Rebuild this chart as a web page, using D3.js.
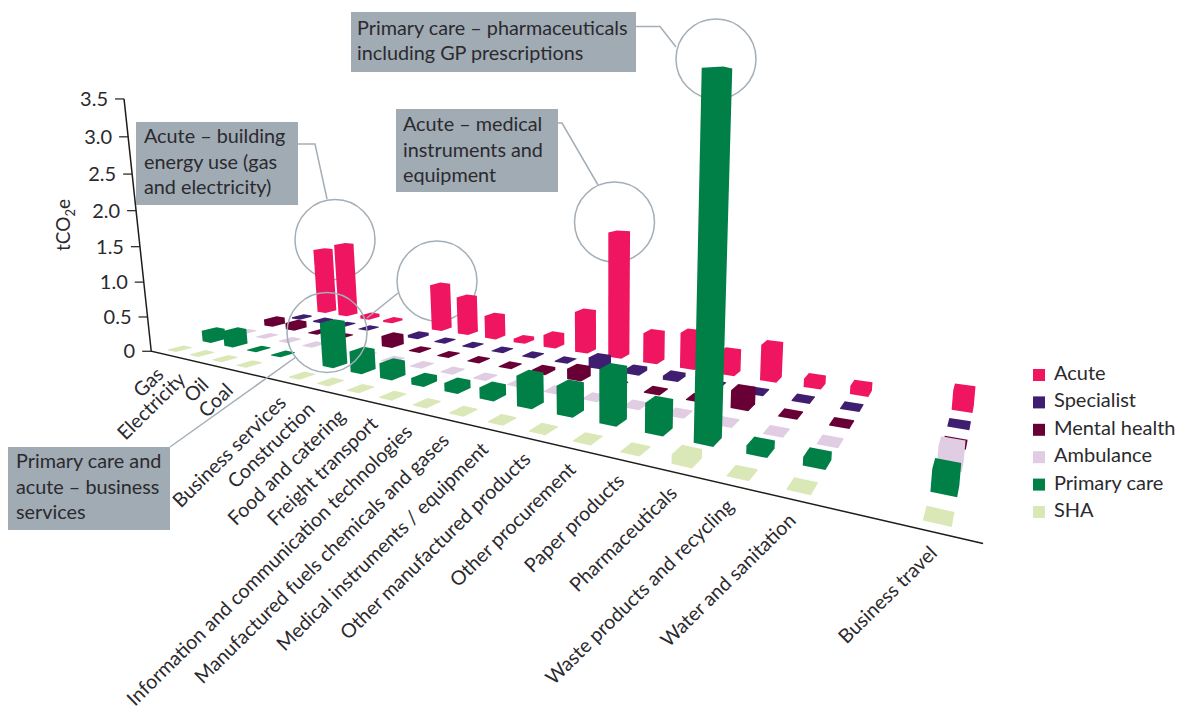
<!DOCTYPE html>
<html>
<head>
<meta charset="utf-8">
<script src="https://d3js.org/d3.v7.min.js"></script>
<style>
  html, body { margin: 0; padding: 0; background: #fff; overflow: hidden; }
  text { font-family: Lato, "Open Sans", sans-serif; fill: #2b2a2e; }
</style>
</head>
<body>
<svg width="1182" height="709"></svg>
<script>
// categories, split into the three groups the chart leaves a gap between
const energy = ["Gas", "Electricity", "Oil", "Coal"];
const procurement = ["Business services", "Construction", "Food and catering", "Freight transport",
  "Information and communication technologies", "Manufactured fuels chemicals and gases",
  "Medical instruments / equipment", "Other manufactured products", "Other procurement",
  "Paper products", "Pharmaceuticals", "Waste products and recycling", "Water and sanitation"];
const travel = ["Business travel"];
const categories = [...energy, ...procurement, ...travel];

const seriesNames = ["Acute", "Specialist", "Mental health", "Ambulance", "Primary care", "SHA"];
const seriesColors = ["#ef1560", "#3f1d70", "#680035", "#e0cde3", "#008046", "#dae8b8"];

// tCO2e, same order as categories
const acute = [1.08, 1.2, 0.05, 0.03, 0.7, 0.56, 0.33, 0.05, 0.17, 0.56, 1.68, 0.39, 0.46, 0.28, 0.44, 0.10, 0.10, 0.22];
const specialist = [0.02, 0.02, 0.01, 0.01, 0.04, 0.01, 0.01, 0.01, 0.01, 0.01, 0.13, 0.05, 0.05, 0.01, 0.01, 0.01, 0.01, 0.01];
const mental = [0.10, 0.10, 0.01, 0.01, 0.15, 0.01, 0.01, 0.01, 0.01, 0.04, 0.13, 0.01, 0.01, 0.01, 0.20, 0.01, 0.01, 0.01];
const ambulance = [0.01, 0.01, 0.01, 0.01, 0.01, 0.01, 0.01, 0.01, 0.01, 0.01, 0.01, 0.01, 0.01, 0.01, 0.01, 0.01, 0.01, 0.20];
const primary = [0.16, 0.22, 0.01, 0.01, 0.58, 0.27, 0.19, 0.08, 0.10, 0.13, 0.35, 0.32, 0.58, 0.31, 3.50, 0.08, 0.08, 0.20];
const sha = [0.01, 0.01, 0.01, 0.01, 0.01, 0.01, 0.01, 0.01, 0.01, 0.01, 0.01, 0.01, 0.01, 0.01, 0.09, 0.01, 0.01, 0.01];
const seriesValues = [acute, specialist, mental, ambulance, primary, sha];

const yTicks = [0, 0.5, 1, 1.5, 2, 2.5, 3, 3.5];

const svg = d3.select("svg");

// scales: grid slots along the front, rows going back, height up
const slotDomain = [...energy, "gap1", ...procurement, "gap2", ...travel];
const slot = d3.scalePoint().domain(slotDomain).range([0, 19]);
const row = d3.scalePoint().domain(seriesNames).range([5, 0]);
const lift = d3.scaleLinear().domain([0, 3.5]).range([0, 1]);

// perspective camera worked out from the picture: ground grid + vertical vanishing point
function project(u, v, h) {
  const t = lift(h);
  const X = 180 + 17.03 * u + 43.2 * v - 33.9 * t;
  const Y = 349 - 3.78 * u + 5.53 * v - 255.6 * t;
  const W = 1 - 0.0244 * u + 0.0422 * v - 0.056 * t;
  return [X / W, Y / W];
}
const depth = (u, v) => 1 - 0.0244 * u + 0.0422 * v;

const halfU = 0.19, halfV = 0.225;

const bars = [];
seriesNames.forEach((s, si) => {
  categories.forEach((c, ci) => {
    const u = slot(c), v = row(s), val = seriesValues[si][ci];
    const corners = [];
    [-halfU, halfU].forEach(du => [-halfV, halfV].forEach(dv => {
      corners.push(project(u + du, v + dv, 0));
      corners.push(project(u + du, v + dv, val));
    }));
    bars.push({ color: seriesColors[si], hull: d3.polygonHull(corners), z: depth(u, v) });
  });
});
bars.sort((a, b) => d3.descending(a.z, b.z));

const line = d3.line();
const grey = "#a3aeb7";

// circles that sit behind the bars
const backCircles = [[335, 239.5], [716, 59], [614.5, 222], [437, 281]];
svg.selectAll(".back-circle").data(backCircles).join("circle")
  .attr("class", "back-circle")
  .attr("cx", d => d[0]).attr("cy", d => d[1]).attr("r", 40)
  .attr("fill", "none").attr("stroke", grey).attr("stroke-width", 1.5);

// bars, far to near, flat colour silhouettes
svg.append("g").selectAll("path").data(bars).join("path")
  .attr("d", d => "M" + d.hull.join("L") + "Z")
  .attr("fill", d => d.color);

// this one is on top of the bars
svg.append("circle").attr("cx", 327).attr("cy", 332.5).attr("r", 40)
  .attr("fill", "none").attr("stroke", grey).attr("stroke-width", 1.5);

// axes
const axisColor = "#1d1d1b";
const corner = project(-0.5, -0.5, 0);
const top35 = project(-0.5, -0.5, 3.5);
const frontEnd = project(19.6, -0.5, 0);
svg.append("path").attr("d", line([top35, corner, frontEnd]))
  .attr("fill", "none").attr("stroke", axisColor).attr("stroke-width", 1.5);

const ticks = svg.append("g").selectAll("g").data(yTicks).join("g")
  .attr("transform", d => `translate(${project(-0.5, -0.5, d)})`);
ticks.append("line").attr("x1", -9).attr("x2", 0)
  .attr("stroke", axisColor).attr("stroke-width", 1.2);
ticks.append("text").attr("x", -16).attr("dy", "0.35em")
  .attr("text-anchor", "end").attr("font-size", 20)
  .text(d => d === 0 ? "0" : d3.format(".1f")(d));

// y title
const yTitle = svg.append("text").attr("transform", "translate(69.5,225) rotate(-90)")
  .attr("text-anchor", "middle").attr("font-size", 19);
yTitle.append("tspan").text("tCO");
yTitle.append("tspan").attr("font-size", 13).attr("dy", 5).text("2");
yTitle.append("tspan").attr("dy", -5).text("e");

// category labels
svg.append("g").selectAll("text").data(categories).join("text")
  .attr("transform", d => {
    const p = project(slot(d), -0.5, 0);
    return `translate(${p[0] + 3},${p[1] + 22}) rotate(-44.5)`;
  })
  .attr("text-anchor", "end").attr("font-size", 19.7)
  .text(d => d);

// call-outs
const callouts = [
  { box: [136, 122, 162, 83], pad: 8, first: 21, lines: ["Acute – building", "energy use (gas", "and electricity)"], leader: [[298, 144], [315, 144], [327, 199]] },
  { box: [351, 12, 285, 60], pad: 6, first: 22.5, lines: ["Primary care – pharmaceuticals", "including GP prescriptions"], leader: [[636, 26.5], [660, 26.5], [676, 47]] },
  { box: [396, 109, 162, 83], pad: 7, first: 22, lines: ["Acute – medical", "instruments and", "equipment"], leader: [[558, 123], [562, 123], [598, 185]] },
  { box: [8, 447, 162, 83], pad: 8, first: 21, lines: ["Primary care and", "acute – business", "services"], leader: [[170, 447], [296, 357]] }
];
svg.append("path").attr("d", line([[367, 318], [398, 293]]))
  .attr("fill", "none").attr("stroke", grey).attr("stroke-width", 1.5);
callouts.forEach(c => {
  svg.append("path").attr("d", line(c.leader))
    .attr("fill", "none").attr("stroke", grey).attr("stroke-width", 1.5);
  svg.append("rect").attr("x", c.box[0]).attr("y", c.box[1])
    .attr("width", c.box[2]).attr("height", c.box[3]).attr("fill", "#a0abb4");
  svg.append("g").selectAll("text").data(c.lines).join("text")
    .attr("x", c.box[0] + c.pad)
    .attr("y", (d, i) => c.box[1] + c.first + i * 25.7)
    .attr("font-size", 19.8)
    .text(d => d);
});

// legend
const legend = svg.append("g").selectAll("g").data(seriesNames).join("g")
  .attr("transform", (d, i) => `translate(1033,${369 + i * 27.4})`);
legend.append("rect").attr("width", 12).attr("height", 12)
  .attr("fill", (d, i) => seriesColors[i]);
legend.append("text").attr("x", 21).attr("y", 11)
  .attr("font-size", 20)
  .text(d => d);
</script>
</body>
</html>
